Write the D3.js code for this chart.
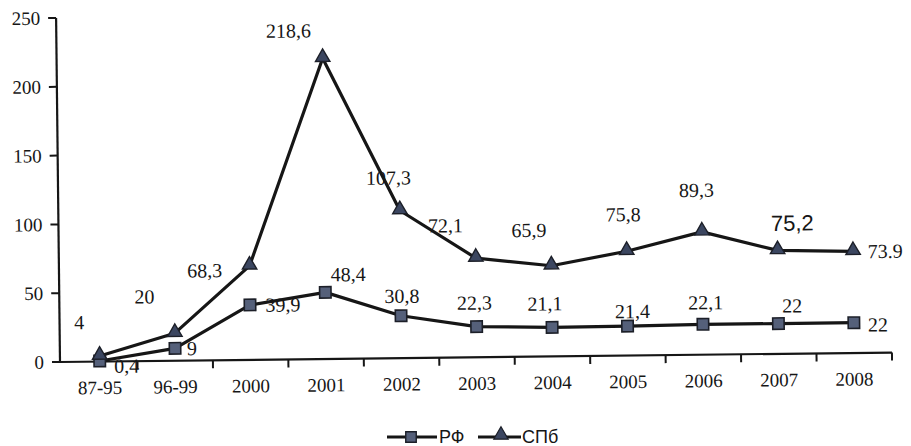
<!DOCTYPE html>
<html>
<head>
<meta charset="utf-8">
<script src="https://cdn.jsdelivr.net/npm/d3@7"></script>
<style>
  html, body { margin: 0; padding: 0; background: #fff; }
  svg { display: block; }
</style>
</head>
<body>
<svg id="chart" width="911" height="446"></svg>
<script>
const categories = ["87-95", "96-99", "2000", "2001", "2002", "2003", "2004", "2005", "2006", "2007", "2008"];
const rfValues  = [0.4, 9, 39.9, 48.4, 30.8, 22.3, 21.1, 21.4, 22.1, 22, 22];
const spbValues = [4, 20, 68.3, 218.6, 107.3, 72.1, 65.9, 75.8, 89.3, 75.2, 73.9];
const rfLabels  = ["0,4", "9", "39,9", "48,4", "30,8", "22,3", "21,1", "21,4", "22,1", "22", "22"];
const spbLabels = ["4", "20", "68,3", "218,6", "107,3", "72,1", "65,9", "75,8", "89,3", "75,2", "73.9"];
const yTicks = [0, 50, 100, 150, 200, 250];
const seriesNames = ["РФ", "СПб"];

// label nudges (layout only)
const rfNudge  = [[27,5],[17,0],[33,0],[23,-18],[1,-20],[-2,-24],[-7,-24],[5,-15],[3,-22],[14,-18],[24,2]];
const spbNudge = [[-20,-34],[-30,-37],[-45,4],[-34,-28],[-11,-33],[-30,-33],[-22,-36],[-3,-37],[-5,-42],[15,-27],[32,0]];

const svg = d3.select("#chart");
const ox = 60, oy = 362;
const x = d3.scaleBand().domain(categories).range([62, 892]);
const y = d3.scaleLinear().domain([0, 250]).range([oy, 18]);
const cx = d => x(d) + x.bandwidth() / 2;

const g = svg.append("g").attr("transform", `rotate(-0.65, ${ox}, ${oy})`);

const ink = "#161616";
const serif = "'Liberation Serif', 'Times New Roman', serif";

// Y axis
g.append("line").attr("x1", ox).attr("x2", ox).attr("y1", y(250)).attr("y2", oy)
  .attr("stroke", ink).attr("stroke-width", 2.2);
g.selectAll(".ytick").data(yTicks).enter().append("line")
  .attr("x1", ox - 8).attr("x2", ox).attr("y1", d => y(d)).attr("y2", d => y(d))
  .attr("stroke", ink).attr("stroke-width", 2);
g.selectAll(".ylab").data(yTicks).enter().append("text")
  .attr("x", ox - 16).attr("y", d => y(d)).attr("text-anchor", "end")
  .attr("dominant-baseline", "central")
  .attr("font-family", serif).attr("font-size", 19).attr("fill", ink)
  .text(d => d);

// X axis
g.append("line").attr("x1", ox).attr("x2", 892).attr("y1", oy).attr("y2", oy)
  .attr("stroke", ink).attr("stroke-width", 2.2);
const bounds = categories.slice(1).map(c => x(c)).concat([892]);
g.selectAll(".xtick").data(bounds).enter().append("line")
  .attr("x1", d => d).attr("x2", d => d).attr("y1", oy).attr("y2", oy + 8)
  .attr("stroke", ink).attr("stroke-width", 2);
g.selectAll(".xlab").data(categories).enter().append("text")
  .attr("x", d => cx(d)).attr("y", oy + 26).attr("text-anchor", "middle")
  .attr("dominant-baseline", "central")
  .attr("font-family", serif).attr("font-size", 19).attr("fill", ink)
  .text(d => d);

// data labels (under lines, as in the scan)
function labels(vals, texts, nudge) {
  g.append("g").selectAll("text").data(vals).enter().append("text")
    .attr("x", (d, i) => cx(categories[i]) + nudge[i][0])
    .attr("y", (d, i) => y(d) + nudge[i][1])
    .attr("text-anchor", "middle")
    .attr("dominant-baseline", "central")
    .attr("font-family", (d, i) => texts[i] === "75,2" ? "'Liberation Sans', Arial, sans-serif" : serif)
    .attr("font-size", (d, i) => texts[i] === "75,2" ? 22 : 20)
    .attr("fill", ink)
    .text((d, i) => texts[i]);
}
labels(spbValues, spbLabels, spbNudge);
labels(rfValues, rfLabels, rfNudge);

// lines
const line = d3.line().x((d, i) => cx(categories[i])).y(d => y(d));
g.append("path").datum(rfValues).attr("d", line).attr("fill", "none")
  .attr("stroke", ink).attr("stroke-width", 3.2).attr("stroke-linejoin", "round");
g.append("path").datum(spbValues).attr("d", line).attr("fill", "none")
  .attr("stroke", ink).attr("stroke-width", 3.2).attr("stroke-linejoin", "round");

// markers
const sq = d3.symbol().type(d3.symbolSquare).size(130);
const tri = d3.symbol().type(d3.symbolTriangle).size(90);
g.append("g").selectAll("path").data(rfValues).enter().append("path")
  .attr("d", sq).attr("transform", (d, i) => `translate(${cx(categories[i])},${y(d)})`)
  .attr("fill", "#55607a").attr("stroke", "#1c1f28").attr("stroke-width", 1.6);
g.append("g").selectAll("path").data(spbValues).enter().append("path")
  .attr("d", tri).attr("transform", (d, i) => `translate(${cx(categories[i])},${y(d) - 1})`)
  .attr("fill", "#3b4660").attr("stroke", "#1c1f28").attr("stroke-width", 1.4);

// legend
const leg = svg.append("g").attr("transform", "translate(0,437)");
leg.append("line").attr("x1", 387).attr("x2", 437).attr("y1", 0).attr("y2", 0)
  .attr("stroke", ink).attr("stroke-width", 3);
leg.append("path").attr("d", d3.symbol().type(d3.symbolSquare).size(110))
  .attr("transform", "translate(411,0)")
  .attr("fill", "#55607a").attr("stroke", "#1c1f28").attr("stroke-width", 1.4);
leg.append("text").attr("x", 439).attr("y", 0).attr("dominant-baseline", "central")
  .attr("font-family", "'Liberation Sans', Arial, sans-serif").attr("font-size", 18)
  .attr("fill", ink).text(seriesNames[0]);
leg.append("line").attr("x1", 478).attr("x2", 521).attr("y1", 0).attr("y2", 0)
  .attr("stroke", ink).attr("stroke-width", 3);
leg.append("path").attr("d", d3.symbol().type(d3.symbolTriangle).size(90))
  .attr("transform", "translate(501,-2)")
  .attr("fill", "#3b4660").attr("stroke", "#1c1f28").attr("stroke-width", 1.2);
leg.append("text").attr("x", 522).attr("y", 0).attr("dominant-baseline", "central")
  .attr("font-family", "'Liberation Sans', Arial, sans-serif").attr("font-size", 18)
  .attr("fill", ink).text(seriesNames[1]);
</script>
</body>
</html>
